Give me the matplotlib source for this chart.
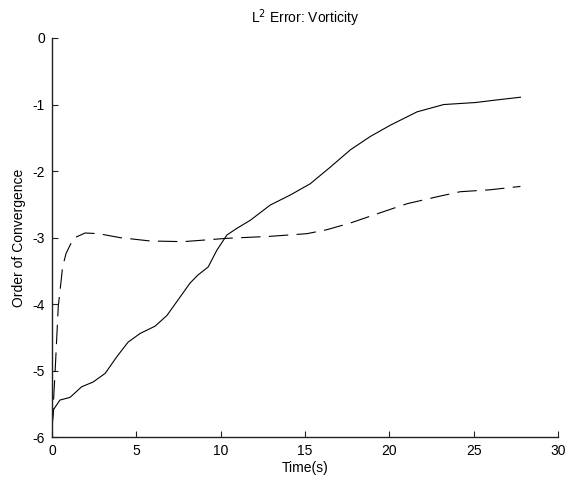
import matplotlib
matplotlib.use("Agg")
import matplotlib.pyplot as plt

# Solid curve
solid_t = [0.0, 0.1, 0.47, 1.07, 1.76, 2.43, 3.15, 3.84, 4.51, 5.22, 6.11, 6.81,
           7.60, 8.19, 8.66, 9.26, 9.77, 10.37, 10.96, 11.75, 12.94, 14.12, 15.31,
           16.5, 17.69, 18.87, 20.06, 21.64, 23.22, 25.1, 26.39, 27.77]
solid_v = [-5.85, -5.58, -5.44, -5.40, -5.24, -5.17, -5.04, -4.79, -4.57, -4.44,
           -4.33, -4.17, -3.89, -3.68, -3.56, -3.44, -3.19, -2.96, -2.86, -2.74,
           -2.51, -2.36, -2.19, -1.94, -1.68, -1.48, -1.31, -1.11, -1.00, -0.97,
           -0.93, -0.89]

# Dashed curve
dash_t = [0.0, 0.18, 0.37, 0.63, 0.83, 1.27, 1.96, 2.75, 4.04, 5.82, 7.79, 10.37,
          12.94, 15.12, 16.3, 17.69, 19.07, 20.46, 21.05, 22.93, 24.2, 26.0, 27.77]
dash_v = [-5.85, -5.04, -4.04, -3.44, -3.24, -3.01, -2.93, -2.94, -3.00, -3.05,
          -3.06, -3.01, -2.98, -2.94, -2.88, -2.78, -2.66, -2.54, -2.49, -2.38,
          -2.31, -2.28, -2.23]

x_ticks = [0, 5, 10, 15, 20, 25, 30]
y_ticks = [-6, -5, -4, -3, -2, -1, 0]

plt.rcParams['font.family'] = ['Liberation Sans', 'DejaVu Sans']
plt.rcParams['lines.scale_dashes'] = False

fig = plt.figure(figsize=(5.67, 4.79), dpi=100)
ax = fig.add_axes([0.0917, 0.087, 0.8925, 0.8337])

ax.plot(solid_t, solid_v, color='black', lw=0.8, linestyle='-')
ax.plot(dash_t, dash_v, color='black', lw=0.8, dashes=(14, 6))

ax.set_xlim(0, 30)
ax.set_ylim(-6, 0)
ax.set_xticks(x_ticks)
ax.set_yticks(y_ticks)
ax.set_xticklabels([str(v) for v in x_ticks])
ax.set_yticklabels([str(v) for v in y_ticks])

for side in ('top', 'right'):
    ax.spines[side].set_visible(False)
for side in ('left', 'bottom'):
    ax.spines[side].set_color('#222222')
    ax.spines[side].set_linewidth(1.0)

ax.tick_params(direction='in', length=4, width=0.8, colors='#222222',
               labelsize=10, pad=5, labelcolor='black')

ax.set_title('L$^2$ Error: Vorticity', fontsize=10, pad=11)
ax.set_xlabel('Time(s)', fontsize=10, labelpad=2)
ax.set_ylabel('Order of Convergence', fontsize=10, labelpad=5)

fig.savefig('out.png', dpi=100)
